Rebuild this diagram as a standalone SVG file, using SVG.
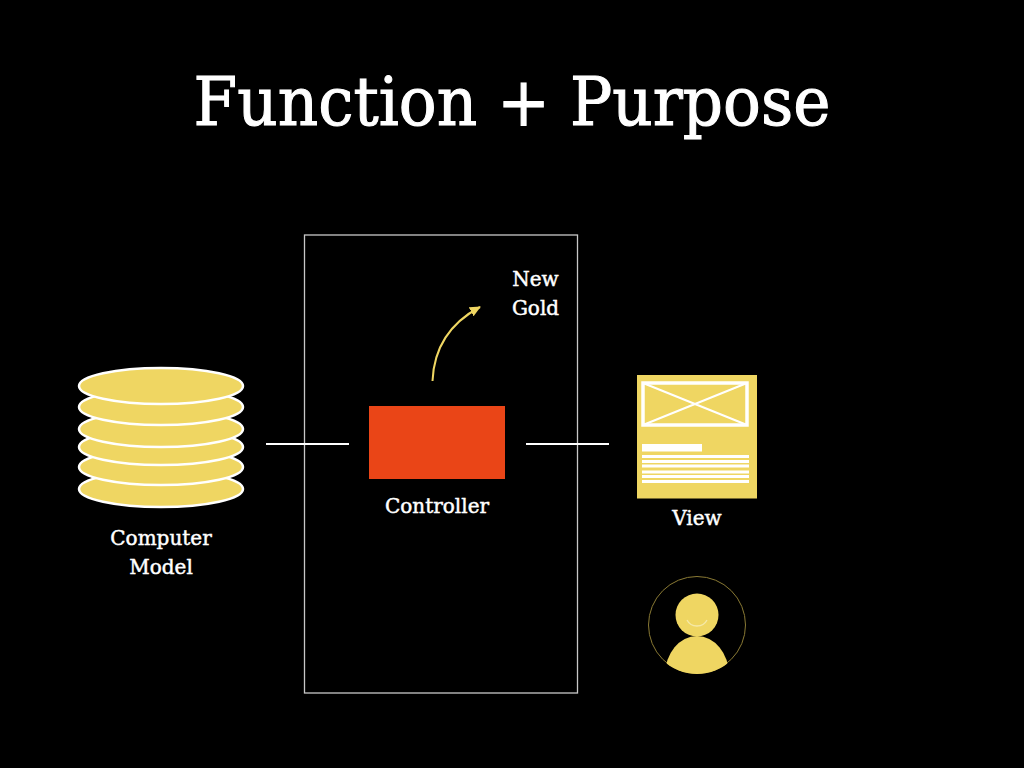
<svg xmlns="http://www.w3.org/2000/svg" width="1024" height="768" viewBox="0 0 1024 768">
<style>
text{fill:#fff;stroke:#fff;font-family:"DejaVu Serif","Liberation Serif",serif;text-anchor:middle}
.l{font-size:20px;stroke-width:.45}
.d{fill:#efd662;stroke:#fff;stroke-width:2.500}
.w{fill:#fff}
.c{stroke:#fff;stroke-width:2;fill:none}
</style>
<defs>
<clipPath id="cp"><circle cx="697" cy="625" r="49"/></clipPath>
<marker id="ah" markerUnits="userSpaceOnUse" markerWidth="12" markerHeight="12" refX="10" refY="5" orient="auto"><path d="M0 0L11 5L0 10Z" fill="#efd662"/></marker>
</defs>
<rect width="1024" height="768" fill="#000"/>
<text id="title" x="512" y="125" font-size="68" stroke-width="1.100" textLength="637" lengthAdjust="spacingAndGlyphs">Function + Purpose</text>
<rect id="frame" x="304.500" y="235" width="273" height="458" fill="none" stroke="#c8c8c8" stroke-width="1.300"/>
<g id="connectors">
<path class="c" d="M266 444H349"/>
<path class="c" d="M526 444H609"/>
<path d="M432.500 381C434 345 452 322 480 307" fill="none" stroke="#efd662" stroke-width="2" marker-end="url(#ah)"/>
</g>
<g id="model">
<ellipse class="d" cx="161" cy="489" rx="82" ry="18"/>
<ellipse class="d" cx="161" cy="467" rx="82" ry="18"/>
<ellipse class="d" cx="161" cy="447" rx="82" ry="18"/>
<ellipse class="d" cx="161" cy="429" rx="82" ry="18"/>
<ellipse class="d" cx="161" cy="407" rx="82" ry="18"/>
<ellipse class="d" cx="161" cy="386" rx="82" ry="18"/>
<text class="l" x="161" y="545">Computer</text>
<text class="l" x="161" y="574">Model</text>
</g>
<g id="controller">
<rect x="369" y="406" width="136" height="73" fill="#ea4517"/>
<text class="l" x="437" y="513">Controller</text>
</g>
<g id="newgold">
<text class="l" x="535.500" y="286">New</text>
<text class="l" x="535.500" y="315">Gold</text>
</g>
<g id="view">
<rect x="637" y="375" width="120" height="123.500" fill="#efd662"/>
<rect x="643" y="383" width="104" height="42" fill="none" stroke="#fff" stroke-width="3.500"/>
<path d="M643 383L747 425M747 383L643 425" stroke="#fff" stroke-width="2"/>
<rect class="w" x="642" y="444" width="60" height="7.500"/>
<rect class="w" x="642" y="455" width="107" height="3"/>
<rect class="w" x="642" y="460" width="107" height="3"/>
<rect class="w" x="642" y="464.500" width="107" height="3"/>
<rect class="w" x="642" y="470.500" width="107" height="3"/>
<rect class="w" x="642" y="475" width="107" height="3"/>
<rect class="w" x="642" y="480" width="107" height="3"/>
<text class="l" x="697" y="525">View</text>
</g>
<g id="user">
<circle cx="697" cy="625" r="48.500" fill="none" stroke="#8a7a34" stroke-width="1"/>
<g clip-path="url(#cp)">
<ellipse cx="697" cy="675" rx="32" ry="39" fill="#efd662"/>
</g>
<circle cx="697" cy="615" r="21.500" fill="#efd662"/>
<path d="M687 620C691 628 703 628 707 620" fill="none" stroke="#f5e9a8" stroke-width="1.300"/>
</g>
</svg>
